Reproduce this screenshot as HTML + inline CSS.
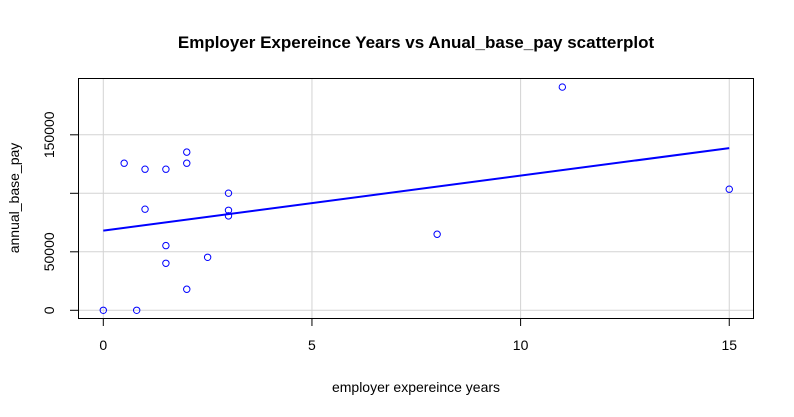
<!DOCTYPE html>
<html><head><meta charset="utf-8"><style>
body{margin:0;background:#fff;}
svg{display:block;font-family:"Liberation Sans",Arial,sans-serif;}
</style></head><body>
<svg width="794" height="417" id="chart">
<text x="416" y="48" text-anchor="middle" font-size="17" font-weight="bold">Employer Expereince Years vs Anual_base_pay scatterplot</text>
<text x="416" y="392" text-anchor="middle" font-size="14">employer expereince years</text>
<text transform="translate(19,198) rotate(-90)" text-anchor="middle" font-size="14">annual_base_pay</text>
<g id="grid"></g><g id="axes"></g><g id="marks"></g>
<rect x="78.5" y="78.5" width="675" height="240" fill="none" stroke="#000"/>
</svg>
<script>
const xs=[0,0.5,1,1,1.5,1.5,1.5,0.8,2,2,2,2.5,3,3,3,8,11,15];
const ys=[0,125700,120600,86400,120600,55300,40200,0,135200,125700,18000,45300,100100,85500,80700,65000,190800,103500];
const xTicks=[0,5,10,15];
const yTicks=[0,50000,100000,150000];
const yTickLabels=["0","50000","","150000"];
const fitIntercept=68100, fitSlope=4700;
const NS="http://www.w3.org/2000/svg";
const sx=v=>103.3+v*41.73;
const sy=v=>310.3-v*58.5/50000;
function mk(tag,attrs,parent){const e=document.createElementNS(NS,tag);for(const k in attrs)e.setAttribute(k,attrs[k]);document.getElementById(parent).appendChild(e);return e;}
xTicks.forEach(t=>{
 let g=mk('line',{x1:sx(t),x2:sx(t),y1:78.5,y2:318.5,stroke:'#d3d3d3'},'grid');
 
 
 let tk=mk('line',{x1:sx(t),x2:sx(t),y1:318.5,y2:326,stroke:'#000'},'axes');
 
 
 let l=mk('text',{x:sx(t),y:350,'text-anchor':'middle','font-size':14},'axes');l.textContent=t;
 
 
});
yTicks.forEach((t,i)=>{
 let g=mk('line',{x1:78.5,x2:753.5,y1:sy(t),y2:sy(t),stroke:'#d3d3d3'},'grid');
 
 
 let tk=mk('line',{x1:70,x2:78.5,y1:sy(t),y2:sy(t),stroke:'#000'},'axes');
 
 
 let l=mk('text',{transform:`translate(54,${sy(t)}) rotate(-90)`,'text-anchor':'middle','font-size':14},'axes');l.textContent=yTickLabels[i];
 
 
});
let fl=mk('line',{x1:sx(0),y1:sy(fitIntercept),x2:sx(15),y2:sy(fitIntercept+15*fitSlope),stroke:'#0000ff','stroke-width':2},'marks');


xs.forEach((x,i)=>{
 let c=mk('circle',{cx:sx(x),cy:sy(ys[i]),r:3.2,fill:'none',stroke:'#0000ff','stroke-width':1},'marks');
 
 
});
</script>
</body></html>
